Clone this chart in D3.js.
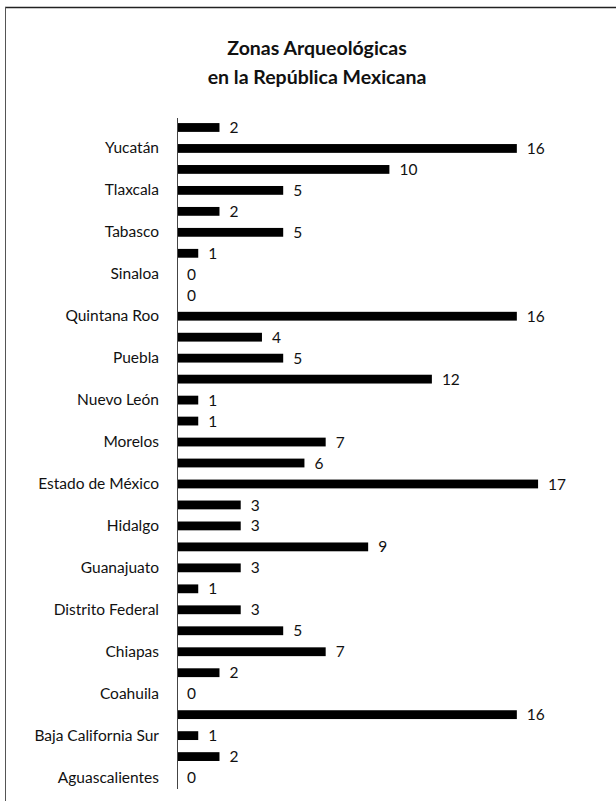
<!DOCTYPE html>
<meta charset="utf-8">
<script src="https://d3js.org/d3.v7.min.js"></script>
<style>
  body { margin: 0; background: #fff; font-family: Lato, "Open Sans", sans-serif; }
  .axis path, .axis line { shape-rendering: crispEdges; }
</style>
<div id="chart"></div>
<script>
  // states, bottom to top (alphabetical order as in the source table)
  var states = ["Aguascalientes", "Baja California", "Baja California Sur", "Campeche",
    "Coahuila", "Colima", "Chiapas", "Chihuahua", "Distrito Federal", "Durango",
    "Guanajuato", "Guerrero", "Hidalgo", "Jalisco", "Estado de México", "Michoacán",
    "Morelos", "Nayarit", "Nuevo León", "Oaxaca", "Puebla", "Querétaro", "Quintana Roo",
    "San Luis Potosí", "Sinaloa", "Sonora", "Tabasco", "Tamaulipas", "Tlaxcala",
    "Veracruz", "Yucatán", "Zacatecas"];
  var zonas = [0, 2, 1, 16, 0, 2, 7, 5, 3, 1, 3, 9, 3, 3, 17, 6, 7, 1, 1, 12, 5, 4, 16,
    0, 0, 1, 5, 2, 5, 10, 16, 2];
  var titleLines = ["Zonas Arqueológicas", "en la República Mexicana"];

  var W = 616, H = 801;
  var margin = { top: 117, left: 177 };
  var step = 20.97;
  var plotH = step * states.length;
  var plotW = 17 * 21.24;

  var svg = d3.select("#chart").append("svg")
    .attr("width", W)
    .attr("height", H);

  // frame of the scanned page (top and left edges only show)
  svg.append("line").attr("x1", 5).attr("x2", W).attr("y1", 7.5).attr("y2", 7.5)
    .attr("stroke", "#222").attr("stroke-width", 1.5);
  svg.append("line").attr("x1", 5.5).attr("x2", 5.5).attr("y1", 7).attr("y2", H)
    .attr("stroke", "#555").attr("stroke-width", 1);

  // title
  svg.selectAll(".title")
    .data(titleLines)
    .enter().append("text")
    .attr("class", "title")
    .attr("x", 317)
    .attr("y", function (d, i) { return 55 + i * 29; })
    .attr("text-anchor", "middle")
    .style("font-size", "19.5px")
    .style("font-weight", "bold")
    .style("fill", "#111")
    .text(function (d) { return d; });

  var g = svg.append("g")
    .attr("transform", "translate(" + margin.left + "," + margin.top + ")");

  var x = d3.scaleLinear().domain([0, 17]).range([0, plotW]);
  var y = d3.scaleBand()
    .domain(states.slice().reverse())
    .range([0, plotH])
    .paddingInner(0.58)
    .paddingOuter(0.29);

  // category axis: only every other label fits, like the original
  var yAxis = d3.axisLeft(y)
    .tickSize(0)
    .tickPadding(18)
    .tickFormat(function (d) { return states.indexOf(d) % 2 === 0 ? d : ""; });

  var ax = g.append("g").attr("class", "axis").call(yAxis);
  ax.select(".domain").attr("stroke", "#444").attr("stroke-width", 1);
  ax.selectAll("text")
    .style("font-family", "Lato, 'Open Sans', sans-serif")
    .style("font-size", "15.5px")
    .style("fill", "#111");

  var data = states.map(function (s, i) { return { state: s, value: zonas[i] }; });

  g.selectAll(".bar")
    .data(data)
    .enter().append("rect")
    .attr("class", "bar")
    .attr("x", 1)
    .attr("y", function (d) { return y(d.state); })
    .attr("width", function (d) { return Math.max(0, x(d.value) - 1); })
    .attr("height", y.bandwidth())
    .attr("fill", "#000");

  g.selectAll(".val")
    .data(data)
    .enter().append("text")
    .attr("class", "val")
    .attr("x", function (d) { return x(d.value) + 10; })
    .attr("y", function (d) { return y(d.state) + y.bandwidth() / 2; })
    .attr("dy", "0.36em")
    .style("font-size", "15.5px")
    .style("fill", "#111")
    .text(function (d) { return d.value; });
</script>
